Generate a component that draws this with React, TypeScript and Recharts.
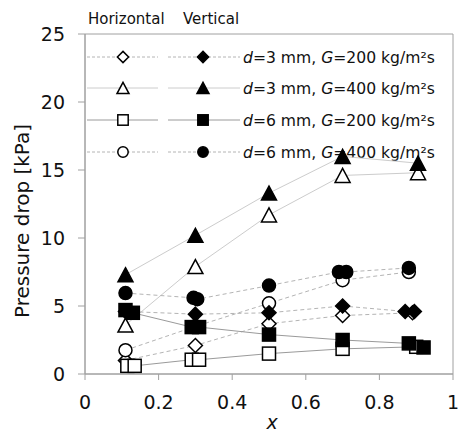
import React from 'react'
import { LineChart, Line, XAxis, YAxis, ReferenceArea, Label } from 'recharts'

const xTicks = [0, 0.2, 0.4, 0.6, 0.8, 1]
const yTicks = [0, 5, 10, 15, 20, 25]

// d=3 mm, G=200 kg/m2s
const hD3G200X = [0.11, 0.3, 0.5, 0.7, 0.89]
const hD3G200Y = [1.0, 2.1, 3.7, 4.3, 4.5]
const vD3G200X = [0.11, 0.3, 0.5, 0.7, 0.87, 0.895]
const vD3G200Y = [4.6, 4.4, 4.5, 5.0, 4.6, 4.6]

// d=3 mm, G=400 kg/m2s
const hD3G400X = [0.11, 0.3, 0.5, 0.7, 0.905]
const hD3G400Y = [3.6, 7.9, 11.7, 14.6, 14.8]
const vD3G400X = [0.11, 0.3, 0.5, 0.7, 0.905]
const vD3G400Y = [7.3, 10.2, 13.3, 16.0, 15.5]

// d=6 mm, G=200 kg/m2s
const hD6G200X = [0.115, 0.135, 0.29, 0.31, 0.5, 0.7, 0.9]
const hD6G200Y = [0.6, 0.6, 1.05, 1.05, 1.5, 1.85, 2.0]
const vD6G200X = [0.11, 0.13, 0.29, 0.31, 0.5, 0.7, 0.88, 0.92]
const vD6G200Y = [4.7, 4.5, 3.45, 3.45, 2.9, 2.5, 2.25, 1.95]

// d=6 mm, G=400 kg/m2s
const hD6G400X = [0.11, 0.3, 0.5, 0.7, 0.88]
const hD6G400Y = [1.75, 3.5, 5.2, 6.9, 7.5]
const vD6G400X = [0.11, 0.295, 0.305, 0.5, 0.69, 0.71, 0.88]
const vD6G400Y = [5.95, 5.6, 5.5, 6.5, 7.5, 7.5, 7.8]

const toRows = (xs: number[], ys: number[]) => xs.map((x, i) => ({ x, y: ys[i] }))

type Shape = 'diamond' | 'triangle' | 'square' | 'circle'

const FONT = '"DejaVu Sans", Verdana, sans-serif'

function Marker({ shape, filled, cx, cy, s = 1 }: { shape: Shape; filled: boolean; cx: number; cy: number; s?: number }) {
  const fill = filled ? '#000' : '#fff'
  const common = { fill, stroke: '#000', strokeWidth: 1.5 }
  if (shape === 'diamond') {
    const h = 7 * s
    return <polygon points={`${cx},${cy - h} ${cx + h},${cy} ${cx},${cy + h} ${cx - h},${cy}`} {...common} />
  }
  if (shape === 'triangle') {
    const w = 7.5 * s
    const h = 7 * s
    return <polygon points={`${cx},${cy - h} ${cx + w},${cy + h} ${cx - w},${cy + h}`} {...common} />
  }
  if (shape === 'square') {
    const h = 6.5 * s
    return <rect x={cx - h} y={cy - h} width={2 * h} height={2 * h} {...common} />
  }
  return <circle cx={cx} cy={cy} r={6.5 * s} {...common} />
}

const dotFor = (shape: Shape, filled: boolean) => (p: any) => (
  <Marker key={`${shape}-${filled}-${p.index}`} shape={shape} filled={filled} cx={p.cx} cy={p.cy} />
)

const series = [
  { name: 'hD3G200', xs: hD3G200X, ys: hD3G200Y, shape: 'diamond', filled: false, stroke: '#b4b4b4', dash: '4 3' },
  { name: 'hD3G400', xs: hD3G400X, ys: hD3G400Y, shape: 'triangle', filled: false, stroke: '#cccccc', dash: undefined },
  { name: 'hD6G200', xs: hD6G200X, ys: hD6G200Y, shape: 'square', filled: false, stroke: '#9a9a9a', dash: undefined },
  { name: 'hD6G400', xs: hD6G400X, ys: hD6G400Y, shape: 'circle', filled: false, stroke: '#b4b4b4', dash: '4 3' },
  { name: 'vD3G200', xs: vD3G200X, ys: vD3G200Y, shape: 'diamond', filled: true, stroke: '#b4b4b4', dash: '4 3' },
  { name: 'vD3G400', xs: vD3G400X, ys: vD3G400Y, shape: 'triangle', filled: true, stroke: '#cccccc', dash: undefined },
  { name: 'vD6G200', xs: vD6G200X, ys: vD6G200Y, shape: 'square', filled: true, stroke: '#9a9a9a', dash: undefined },
  { name: 'vD6G400', xs: vD6G400X, ys: vD6G400Y, shape: 'circle', filled: true, stroke: '#b4b4b4', dash: '4 3' },
] as const

const legendRows = [
  { shape: 'diamond', d: '3', g: '200', stroke: '#b4b4b4', dash: '3 2' },
  { shape: 'triangle', d: '3', g: '400', stroke: '#cccccc', dash: undefined },
  { shape: 'square', d: '6', g: '200', stroke: '#9a9a9a', dash: undefined },
  { shape: 'circle', d: '6', g: '400', stroke: '#b4b4b4', dash: '3 2' },
] as const

function LegendLayer() {
  const rowY = [57, 88, 120, 152]
  return (
    <svg width={458} height={436} style={{ position: 'absolute', left: 0, top: 0 }}>
      <text x={88} y={24} fontFamily={FONT} fontSize={15} fill="#111">Horizontal</text>
      <text x={183} y={24} fontFamily={FONT} fontSize={15} fill="#111">Vertical</text>
      {legendRows.map((r, i) => {
        const y = rowY[i]
        return (
          <g key={r.shape}>
            <line x1={87} x2={158} y1={y} y2={y} stroke={r.stroke} strokeDasharray={r.dash} />
            <line x1={168} x2={240} y1={y} y2={y} stroke={r.stroke} strokeDasharray={r.dash} />
            <Marker shape={r.shape} filled={false} cx={123} cy={y} s={0.8} />
            <Marker shape={r.shape} filled cx={203} cy={y} s={0.8} />
            <text x={243} y={y + 6} fontFamily={FONT} fontSize={15.6} fill="#111">
              <tspan fontStyle="italic">d</tspan>={r.d} mm, <tspan fontStyle="italic">G</tspan>={r.g} kg/m²s
            </text>
          </g>
        )
      })}
    </svg>
  )
}

export default function App() {
  return (
    <div style={{ position: 'absolute', left: 0, top: 0, width: 458, height: 436, background: '#fff' }}>
      <LegendLayer />
      <div style={{ position: 'absolute', left: 0, top: 0 }}>
        <LineChart width={458} height={436} margin={{ top: 34, right: 5, bottom: 0, left: 0 }}>
          <XAxis
            type="number"
            dataKey="x"
            domain={[0, 1]}
            ticks={xTicks}
            height={62}
            stroke="#a0a0a0"
            tickSize={6}
            tickMargin={16}
            tick={{ fontSize: 19, fill: '#111', fontFamily: FONT }}
          >
            <Label
              content={() => (
                <text x={272} y={429} textAnchor="middle" fontFamily={FONT} fontSize={19} fontStyle="italic" fill="#111">
                  x
                </text>
              )}
            />
          </XAxis>
          <YAxis
            type="number"
            dataKey="y"
            domain={[0, 25]}
            ticks={yTicks}
            width={85}
            stroke="#a0a0a0"
            tickSize={7}
            tickMargin={13}
            tick={{ fontSize: 19, fill: '#111', fontFamily: FONT }}
          >
            <Label
              content={() => (
                <text
                  x={22}
                  y={221}
                  transform="rotate(-90 22 221)"
                  textAnchor="middle"
                  dominantBaseline="central"
                  fontFamily={FONT}
                  fontSize={20}
                  fill="#111"
                >
                  Pressure drop [kPa]
                </text>
              )}
            />
          </YAxis>
          <ReferenceArea x1={0} x2={1} y1={0} y2={25} fill="none" stroke="#a0a0a0" strokeWidth={1} />
          {series.map((s) => (
            <Line
              key={s.name}
              data={toRows(s.xs as unknown as number[], s.ys as unknown as number[])}
              dataKey="y"
              type="linear"
              stroke={s.stroke}
              strokeWidth={1}
              strokeDasharray={s.dash}
              dot={dotFor(s.shape, s.filled)}
              activeDot={false}
              isAnimationActive={false}
            />
          ))}
        </LineChart>
      </div>
    </div>
  )
}
